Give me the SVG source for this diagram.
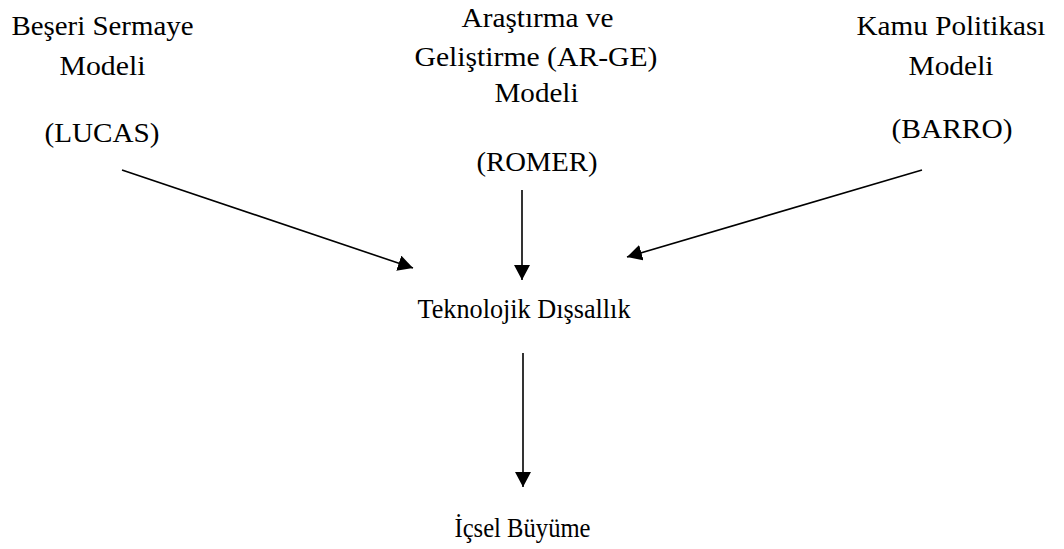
<svg xmlns="http://www.w3.org/2000/svg" width="1064" height="549" viewBox="0 0 1064 549">
<defs>
<style>
text{font-family:"Liberation Serif","Times New Roman",serif;font-size:28px;fill:#000;text-anchor:middle}
.c{stroke:#000;stroke-width:1.6;fill:none}
</style>
<marker id="ah" viewBox="0 0 15 16" refX="15" refY="8" markerWidth="15" markerHeight="16" markerUnits="userSpaceOnUse" orient="auto">
<path d="M0,0 L15,8 L0,16 Z" fill="#000"/>
</marker>
</defs>
<rect width="1064" height="549" fill="#fff"/>
<g id="lucas">
<text x="102.5" y="35" textLength="182" lengthAdjust="spacingAndGlyphs">Beşeri Sermaye</text>
<text x="102.5" y="75" textLength="86" lengthAdjust="spacingAndGlyphs">Modeli</text>
<text x="102" y="142" textLength="115" lengthAdjust="spacingAndGlyphs">(LUCAS)</text>
</g>
<g id="romer">
<text x="537.5" y="27" textLength="152" lengthAdjust="spacingAndGlyphs">Araştırma ve</text>
<text x="536" y="66" textLength="243" lengthAdjust="spacingAndGlyphs">Geliştirme (AR-GE)</text>
<text x="536.5" y="102" textLength="84" lengthAdjust="spacingAndGlyphs">Modeli</text>
<text x="537" y="171" textLength="121" lengthAdjust="spacingAndGlyphs">(ROMER)</text>
</g>
<g id="barro">
<text x="951" y="35" textLength="189" lengthAdjust="spacingAndGlyphs">Kamu Politikası</text>
<text x="951" y="75" textLength="85" lengthAdjust="spacingAndGlyphs">Modeli</text>
<text x="952" y="138" textLength="121" lengthAdjust="spacingAndGlyphs">(BARRO)</text>
</g>
<g id="teknoloji">
<text x="524" y="318" textLength="213" lengthAdjust="spacingAndGlyphs">Teknolojik Dışsallık</text>
</g>
<g id="buyume">
<text x="522.5" y="537" style="font-size:26.5px" textLength="136" lengthAdjust="spacingAndGlyphs">İçsel Büyüme</text>
</g>
<g id="connectors">
<line class="c" x1="122" y1="170" x2="413" y2="268" marker-end="url(#ah)"/>
<line class="c" x1="522" y1="190" x2="522" y2="280" marker-end="url(#ah)"/>
<line class="c" x1="922" y1="170" x2="627" y2="257" marker-end="url(#ah)"/>
<line class="c" x1="523" y1="353" x2="523" y2="487" marker-end="url(#ah)"/>
</g>
</svg>
